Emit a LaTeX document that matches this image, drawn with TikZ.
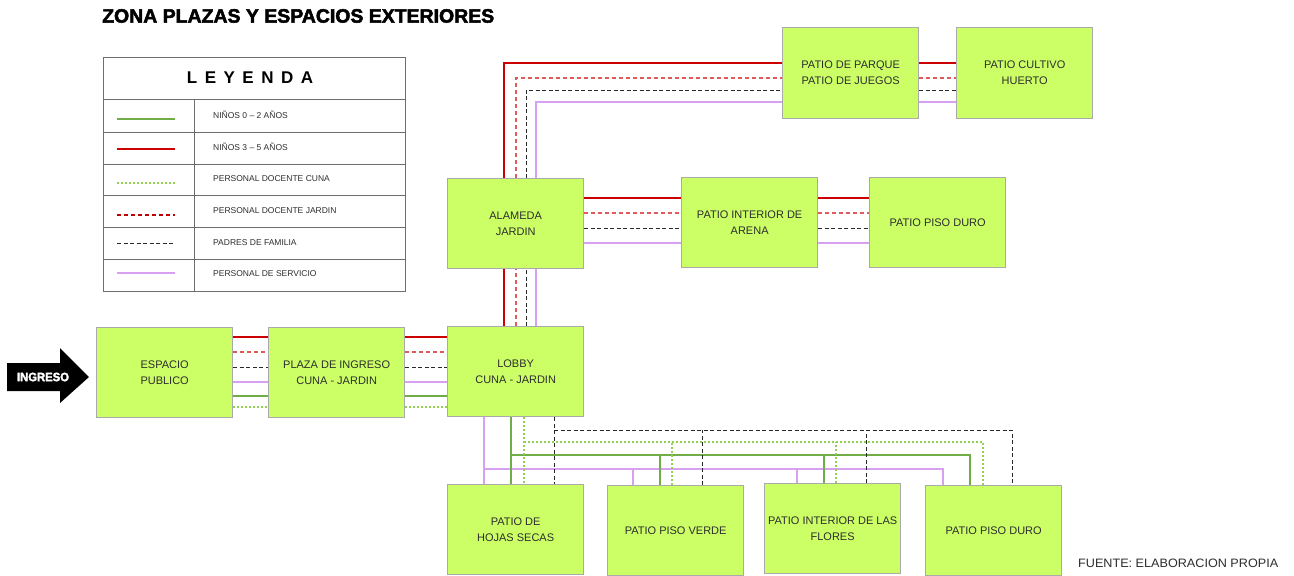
\documentclass[tikz,border=0pt]{standalone}
\usepackage{fontspec}
\setmainfont{Liberation Sans}
\newfontfamily\heavyfont[BoldFeatures={FakeBold=2.5}]{Liberation Sans}
\usepackage{graphicx}
\definecolor{boxfill}{RGB}{204,255,102}
\definecolor{boxline}{RGB}{170,170,170}
\definecolor{txt}{RGB}{45,45,45}
\definecolor{cred}{RGB}{204,0,0}
\definecolor{credd}{RGB}{225,90,90}
\definecolor{credleg}{RGB}{192,0,0}
\definecolor{cblk}{RGB}{40,40,40}
\definecolor{cpink}{RGB}{215,160,240}
\definecolor{cgrn}{RGB}{112,173,71}
\definecolor{cgrnd}{RGB}{146,208,80}
\definecolor{legline}{RGB}{110,110,110}
\begin{document}
\begin{tikzpicture}[x=1pt,y=-1pt,
 zone/.style={draw=boxline, line width=1.3pt, fill=boxfill, minimum width=136pt, minimum height=90pt, anchor=north west, align=center, text=txt, font=\fontsize{11}{16}\selectfont, inner sep=0pt},
 nr/.style={cred, line width=1.3pt},
 nrd/.style={credd, line width=1.3pt, dash pattern=on 4pt off 3pt},
 pf/.style={cblk, line width=1pt, dash pattern=on 4pt off 2.5pt},
 ps/.style={cpink, line width=1.2pt},
 ng/.style={cgrn, line width=1.2pt},
 ngd/.style={cgrnd, line width=1.2pt, dash pattern=on 2pt off 2pt},
 legtext/.style={anchor=west, text=txt, font=\fontsize{8.5}{10}\selectfont, inner sep=0pt},
 legrule/.style={legline, line width=1pt},
]
\useasboundingbox (0,0) rectangle (1294,576);

% title
\node[anchor=south west, inner sep=0pt] (title) at (102,23) {\resizebox{392pt}{13.5pt}{\heavyfont\bfseries ZONA PLAZAS Y ESPACIOS EXTERIORES}};

% legend
\node[draw=legline, line width=1pt, minimum width=302pt, minimum height=234pt, anchor=north west, inner sep=0pt] (leg) at (103,57) {};
\node[inner sep=0pt, font=\fontsize{17}{17}\selectfont\bfseries, text=black] (legtitle) at (250,78) {L\kern7.5pt E\kern7.5pt Y\kern7.5pt E\kern7.5pt N\kern7.5pt D\kern7.5pt A};
\draw[legrule] (leg.west |- 0,99) -- (leg.east |- 0,99);
\draw[legrule] (leg.west |- 0,132) -- (leg.east |- 0,132);
\draw[legrule] (leg.west |- 0,164) -- (leg.east |- 0,164);
\draw[legrule] (leg.west |- 0,195) -- (leg.east |- 0,195);
\draw[legrule] (leg.west |- 0,227) -- (leg.east |- 0,227);
\draw[legrule] (leg.west |- 0,259) -- (leg.east |- 0,259);
\draw[legrule] (194,99) -- (leg.south -| 194,0);
\draw[ng] (117,119) -- (175,119);
\draw[nr] (117,149) -- (175,149);
\draw[ngd] (117,183) -- (175,183);
\draw[credleg, line width=1.2pt, dash pattern=on 4pt off 3pt] (117,215) -- (175,215);
\draw[pf] (117,243) -- (175,243);
\draw[ps] (117,273) -- (175,273);
\node[legtext] (l1) at (213,115) {NIÑOS 0 – 2 AÑOS};
\node[legtext] (l2) at (213,147) {NIÑOS 3 – 5 AÑOS};
\node[legtext] (l3) at (213,179) {PERSONAL DOCENTE CUNA};
\node[legtext] (l4) at (213,211) {PERSONAL DOCENTE JARDIN};
\node[legtext] (l5) at (213,243) {PADRES DE FAMILIA};
\node[legtext] (l6) at (213,274) {PERSONAL DE SERVICIO};

% ingreso arrow
\fill[black] (7,363) -- (60,363) -- (60,348) -- (89,377) -- (60,403) -- (60,391) -- (7,391) -- cycle;
\node[inner sep=0pt, text=white] (ingreso) at (43,377) {\resizebox{52pt}{8.5pt}{\heavyfont\bfseries INGRESO}};

% zones
\node[zone] (esp) at (96,327) {ESPACIO\\PUBLICO};
\node[zone] (plaza) at (268,327) {PLAZA DE INGRESO\\CUNA - JARDIN};
\node[zone] (lobby) at (447,326) {LOBBY\\CUNA - JARDIN};
\node[zone] (alameda) at (447,178) {ALAMEDA\\JARDIN};
\node[zone] (arena) at (681,177) {PATIO INTERIOR DE\\ARENA};
\node[zone] (duroA) at (869,177) {PATIO PISO DURO};
\node[zone, minimum height=91pt] (parque) at (782,27) {PATIO DE PARQUE\\PATIO DE JUEGOS};
\node[zone, minimum height=91pt] (cultivo) at (956,27) {PATIO CULTIVO\\HUERTO};
\node[zone] (hojas) at (447,484) {PATIO DE\\HOJAS SECAS};
\node[zone] (verde) at (607,485) {PATIO PISO VERDE};
\node[zone] (flores) at (764,483) {PATIO INTERIOR DE LAS\\FLORES};
\node[zone] (duroB) at (925,485) {PATIO PISO DURO};

\node[anchor=west, inner sep=0pt, text=txt] (fuente) at (1078,563) {\resizebox{200pt}{8.5pt}{FUENTE: ELABORACION PROPIA}};

% espacio -> plaza -> lobby
\draw[nr]  (esp.east |- 0,337) -- (plaza.west |- 0,337);
\draw[nrd] (esp.east |- 0,352) -- (plaza.west |- 0,352);
\draw[pf]  (esp.east |- 0,367) -- (plaza.west |- 0,367);
\draw[ps]  (esp.east |- 0,382) -- (plaza.west |- 0,382);
\draw[ng]  (esp.east |- 0,396) -- (plaza.west |- 0,396);
\draw[ngd] (esp.east |- 0,407) -- (plaza.west |- 0,407);
\draw[nr]  (plaza.east |- 0,337) -- (lobby.west |- 0,337);
\draw[nrd] (plaza.east |- 0,352) -- (lobby.west |- 0,352);
\draw[pf]  (plaza.east |- 0,367) -- (lobby.west |- 0,367);
\draw[ps]  (plaza.east |- 0,382) -- (lobby.west |- 0,382);
\draw[ng]  (plaza.east |- 0,396) -- (lobby.west |- 0,396);
\draw[ngd] (plaza.east |- 0,407) -- (lobby.west |- 0,407);

% lobby -> alameda
\draw[nr]  (lobby.north -| 504,0) -- (alameda.south -| 504,0);
\draw[nrd] (lobby.north -| 516,0) -- (alameda.south -| 516,0);
\draw[pf]  (lobby.north -| 526,0) -- (alameda.south -| 526,0);
\draw[ps]  (lobby.north -| 536,0) -- (alameda.south -| 536,0);

% alameda -> parque -> cultivo
\draw[nr]  (alameda.north -| 504,0) |- (parque.west |- 0,63);
\draw[nrd] (alameda.north -| 516,0) |- (parque.west |- 0,78);
\draw[pf]  (alameda.north -| 526,0) |- (parque.west |- 0,90);
\draw[ps]  (alameda.north -| 536,0) |- (parque.west |- 0,102);
\draw[nr]  (parque.east |- 0,63) -- (cultivo.west |- 0,63);
\draw[nrd] (parque.east |- 0,78) -- (cultivo.west |- 0,78);
\draw[pf]  (parque.east |- 0,90) -- (cultivo.west |- 0,90);
\draw[ps]  (parque.east |- 0,102) -- (cultivo.west |- 0,102);

% alameda -> arena -> piso duro
\draw[nr]  (alameda.east |- 0,198) -- (arena.west |- 0,198);
\draw[nrd] (alameda.east |- 0,213) -- (arena.west |- 0,213);
\draw[pf]  (alameda.east |- 0,228) -- (arena.west |- 0,228);
\draw[ps]  (alameda.east |- 0,243) -- (arena.west |- 0,243);
\draw[nr]  (arena.east |- 0,198) -- (duroA.west |- 0,198);
\draw[nrd] (arena.east |- 0,213) -- (duroA.west |- 0,213);
\draw[pf]  (arena.east |- 0,228) -- (duroA.west |- 0,228);
\draw[ps]  (arena.east |- 0,243) -- (duroA.west |- 0,243);

% lobby -> bottom patios
\coordinate (pk) at (484,469);
\coordinate (gk) at (511,455);
\coordinate (dk) at (524,442);
\coordinate (bk) at (554,430);
\draw[ps]  (lobby.south -| pk) -- (hojas.north -| pk);
\draw[ps]  (pk) -| (duroB.north -| 943,0);
\draw[ps]  (verde.north -| 633,0) -- (633,469);
\draw[ps]  (flores.north -| 797,0) -- (797,469);
\draw[ng]  (lobby.south -| gk) -- (hojas.north -| gk);
\draw[ng]  (gk) -| (duroB.north -| 970,0);
\draw[ng]  (verde.north -| 660,0) -- (660,455);
\draw[ng]  (flores.north -| 824,0) -- (824,455);
\draw[ngd] (lobby.south -| dk) -- (hojas.north -| dk);
\draw[ngd] (dk) -| (duroB.north -| 983,0);
\draw[ngd] (verde.north -| 672,0) -- (672,442);
\draw[ngd] (flores.north -| 836,0) -- (836,442);
\draw[pf]  (lobby.south -| bk) -- (hojas.north -| bk);
\draw[pf]  (bk) -| (duroB.north -| 1012,0);
\draw[pf]  (verde.north -| 702,0) -- (702,430);
\draw[pf]  (flores.north -| 866,0) -- (866,430);
\end{tikzpicture}
\end{document}
